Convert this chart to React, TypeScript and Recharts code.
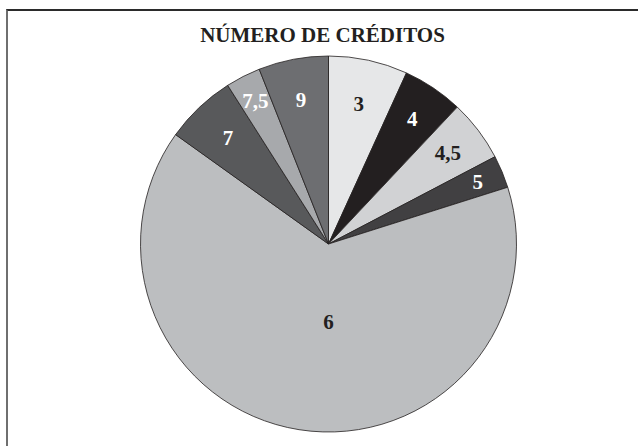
import React from "react";
import { PieChart, Pie, Cell } from "recharts";

// créditos por asignatura, porcentaje de asignaturas
const CATEGORIES = ["3", "4", "4,5", "5", "6", "7", "7,5", "9"];
const VALUES = [6.8, 5.2, 5.3, 2.8, 64.7, 6.1, 3.0, 6.0];

const COLORS = ["#e6e7e8", "#231f20", "#d1d2d4", "#414042", "#bcbec0", "#58595b", "#a7a9ac", "#6d6e71"];
const LABEL_COLORS = ["#231f20", "#ffffff", "#231f20", "#ffffff", "#231f20", "#ffffff", "#ffffff", "#ffffff"];

const data = CATEGORIES.map((name, i) => ({ name, value: VALUES[i] }));

const RAD = Math.PI / 180;
const FONT = "'Liberation Serif', 'DejaVu Serif', serif";

const renderLabel = (props: any) => {
  const { cx, cy, midAngle, outerRadius, percent, index } = props;
  let x: number;
  let y: number;
  if (percent > 0.5) {
    // the big slice gets its label straight below the centre
    x = cx;
    y = cy + outerRadius * 0.415;
  } else {
    // thin slices push their label further out
    const r = outerRadius * (0.93 - 2.5 * percent);
    x = cx + r * Math.cos(-midAngle * RAD);
    y = cy + r * Math.sin(-midAngle * RAD);
  }
  return (
    <text
      x={x}
      y={y}
      fill={LABEL_COLORS[index]}
      textAnchor="middle"
      dominantBaseline="central"
      fontFamily={FONT}
      fontWeight="bold"
      fontSize={21}
    >
      {CATEGORIES[index]}
    </text>
  );
};

export default function App() {
  return (
    <div style={{ position: "absolute", left: 0, top: 0, width: 638, height: 446, background: "#fff", overflow: "hidden" }}>
      <div
        style={{
          position: "absolute",
          left: 6,
          top: 9,
          width: 650,
          height: 460,
          borderTop: "2px solid #2b2b2b",
          borderLeft: "2px solid #6f6f6f",
        }}
      />
      <svg width={638} height={60} style={{ position: "absolute", left: 0, top: 0 }}>
        <text x={322.5} y={42} textAnchor="middle" fontFamily={FONT} fontWeight="bold" fontSize={21} fill="#231f20">
          NÚMERO DE CRÉDITOS
        </text>
      </svg>
      <div style={{ position: "absolute", left: 0, top: 0 }}>
        <PieChart width={638} height={446} margin={{ top: 0, right: 0, bottom: 0, left: 0 }}>
          <Pie
            data={data}
            dataKey="value"
            nameKey="name"
            cx={328.5}
            cy={244}
            outerRadius={188}
            startAngle={90}
            endAngle={-270}
            stroke="#231f20"
            strokeWidth={0.8}
            label={renderLabel}
            labelLine={false}
            isAnimationActive={false}
          >
            {data.map((d, i) => (
              <Cell key={d.name} fill={COLORS[i]} />
            ))}
          </Pie>
        </PieChart>
      </div>
    </div>
  );
}
